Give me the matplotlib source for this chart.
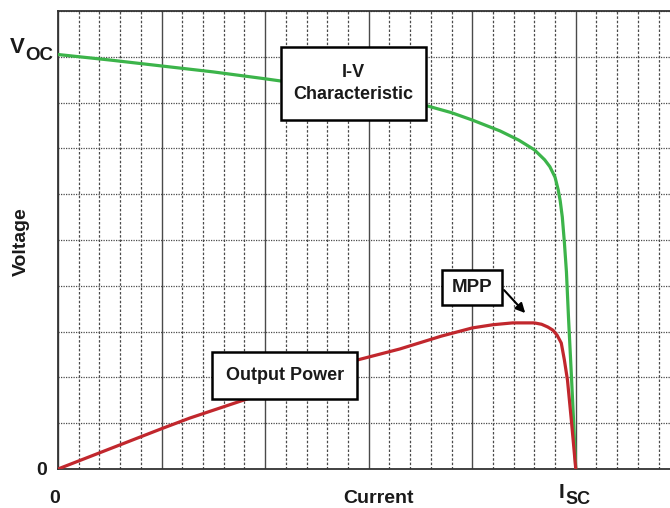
import matplotlib
matplotlib.use("Agg")
import matplotlib.pyplot as plt
from matplotlib.patches import Rectangle
import numpy as np

# valores (corriente en divisiones, tension en divisiones)
iv_current = [0, 0.5, 1.0, 1.5, 2.0, 2.5, 3.0, 3.5, 3.8, 4.0, 4.27, 4.45, 4.6, 4.7,
              4.75, 4.8, 4.83, 4.85, 4.87, 4.89, 4.91, 4.93, 4.96, 4.98, 5.0]
iv_voltage = [9.05, 8.93, 8.80, 8.67, 8.52, 8.36, 8.18, 7.97, 7.78, 7.62, 7.38, 7.18,
              6.97, 6.75, 6.6, 6.37, 6.1, 5.85, 5.5, 4.95, 4.3, 3.3, 1.94, 1.0, 0]

pw_current = [0, 0.5, 1.0, 1.27, 1.8, 2.4, 2.89, 3.3, 3.7, 4.0, 4.2, 4.39, 4.6, 4.67,
              4.73, 4.78, 4.82, 4.86, 4.89, 4.92, 4.96, 5.0]
pw_values = [0, 0.44, 0.88, 1.11, 1.51, 1.98, 2.38, 2.62, 2.90, 3.08, 3.15, 3.19, 3.19,
             3.16, 3.10, 3.03, 2.92, 2.75, 2.38, 1.94, 1.0, 0]

x_max = 5.91
y_max = 10

bold = ['Liberation Sans', 'DejaVu Sans']

fig = plt.figure(figsize=(6.7, 5.08), dpi=100)
ax = fig.add_axes([58 / 670, 39 / 508, 1 - 58 / 670, 458 / 508])
ax.set_xlim(0, x_max)
ax.set_ylim(0, y_max)

# rejilla
ax.set_xticks(np.arange(0, 6, 1))
ax.set_xticks(np.arange(0, x_max, 0.2), minor=True)
ax.set_yticks(np.arange(0, 11, 1))
ax.grid(which='major', axis='x', color='#4a4a4a', lw=1.0, ls='-')
ax.grid(which='minor', axis='x', color='#4a4a4a', lw=0.9, ls=(0, (2, 1.5)))
ax.grid(which='major', axis='y', color='#4a4a4a', lw=0.9, ls=(0, (1, 1)))
ax.tick_params(which='both', length=0, labelbottom=False, labelleft=False)
ax.spines['right'].set_visible(False)
for s in ['left', 'top', 'bottom']:
    ax.spines[s].set_color('#333333')
    ax.spines[s].set_linewidth(1.3)

ax.plot(iv_current, iv_voltage, color='#3cb44a', lw=2.3, zorder=3)
ax.plot(pw_current, pw_values, color='#c1272d', lw=2.3, zorder=3)

# cajas de texto
def caja(x0, x1, y0, y1, texto, size):
    ax.add_patch(Rectangle((x0, y0), x1 - x0, y1 - y0, fc='white', ec='black',
                           lw=1.8, zorder=5))
    ax.text((x0 + x1) / 2, (y0 + y1) / 2, texto, ha='center', va='center',
            fontsize=size, fontweight='bold', family=bold, zorder=6,
            linespacing=1.35, color='#1a1a1a')

caja(2.15, 3.55, 7.62, 9.21, 'I-V\nCharacteristic', 13)
caja(1.49, 2.89, 1.53, 2.55, 'Output Power', 13)
caja(3.71, 4.29, 3.58, 4.34, 'MPP', 13.5)
ax.annotate('', xy=(4.53, 3.36), xytext=(4.29, 3.95),
            arrowprops=dict(arrowstyle='-|>', color='black', lw=1.5,
                            mutation_scale=14), zorder=6)

# etiquetas
def t(x, y, s, size, **kw):
    fig.text(x / 670, 1 - y / 508, s, fontsize=size, fontweight='bold',
             family=bold, color='#1a1a1a', **kw)

t(10, 53, 'V', 16, ha='left', va='baseline')
t(25, 60, 'OC', 13.5, ha='left', va='baseline')
t(42, 475, '0', 14, ha='center', va='baseline')
t(55, 503, '0', 14, ha='center', va='baseline')
t(379, 503, 'Current', 14, ha='center', va='baseline')
t(559, 498, 'I', 15, ha='left', va='baseline')
t(565, 504, 'SC', 13, ha='left', va='baseline')
t(21, 242, 'Voltage', 14, ha='center', va='center', rotation=90)

fig.savefig('out.png', dpi=100)
